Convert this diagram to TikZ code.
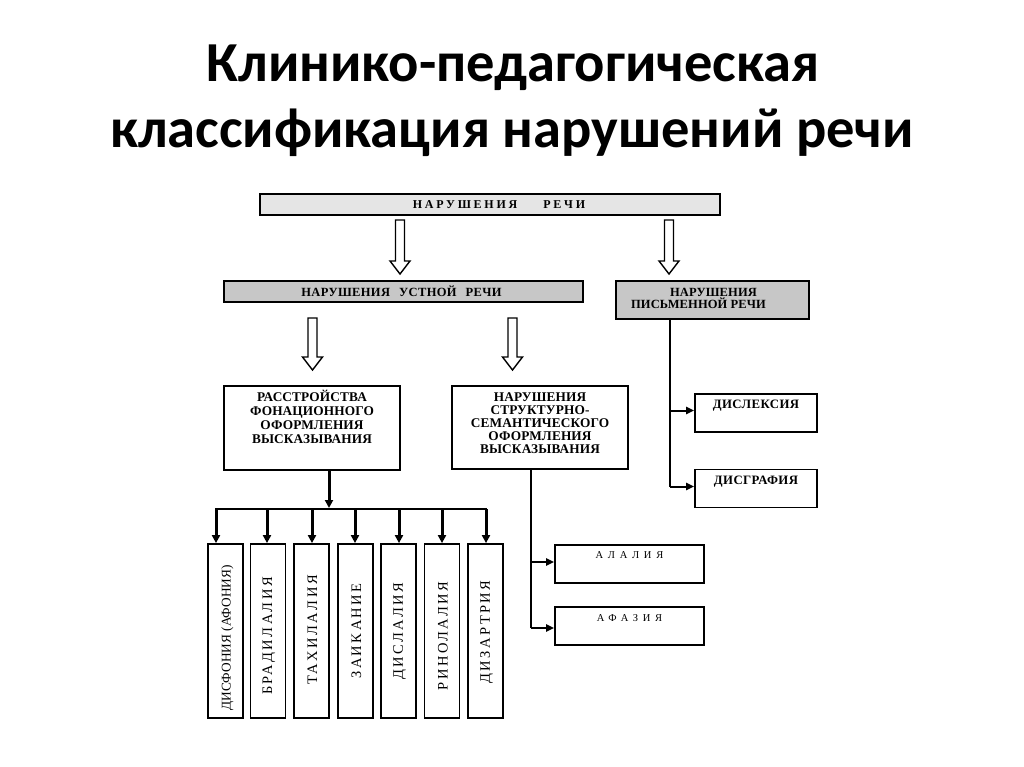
\documentclass[tikz,border=0pt]{standalone}
\usepackage{fontspec}
\setmainfont{Liberation Serif}
\newfontfamily\titlefont{Carlito}
\newfontfamily\lsTop[LetterSpace=23]{Liberation Serif}
\newfontfamily\lsWide[LetterSpace=45]{Liberation Serif}
\newfontfamily\lsOral[LetterSpace=3]{Liberation Serif}
\newfontfamily\lsBox[LetterSpace=1]{Liberation Serif}
\newfontfamily\lsLex[LetterSpace=3]{Liberation Serif}
\newfontfamily\lsVert[LetterSpace=17]{Liberation Serif}
\usetikzlibrary{arrows.meta,calc}
\newcommand\hollowarrow[2]{%
  \draw[hollow] let \p1=(#1), \p2=(#2) in
    (\x1-4.5pt,\y1) -- (\x1+4.5pt,\y1) -- (\x1+4.5pt,\y2+13pt) -- (\x1+10pt,\y2+13pt)
    -- (\x1,\y2) -- (\x1-10pt,\y2+13pt) -- (\x1-4.5pt,\y2+13pt) -- cycle;}
\begin{document}
\begin{tikzpicture}[x=1pt,y=-1pt,
  box/.style={draw, line width=1.8pt, inner sep=0pt},
  hollow/.style={draw, line width=1.4pt, fill=white, line join=miter},
  conn/.style={line width=2pt},
  arr/.style={line width=2pt, -{Triangle[length=8pt,width=7pt]}},
  busarr/.style={line width=3pt, -{Triangle[length=8pt,width=8pt]}},
  ttl/.style={font=\titlefont\bfseries\fontsize{56.5}{60}\selectfont, anchor=base, inner sep=0pt},
  btxt/.style={inner sep=0pt, align=center},
  vtxt/.style={inner sep=0pt, rotate=90, font=\lsVert\fontsize{14.5}{16}\selectfont}]
\useasboundingbox (0,0) rectangle (1024,767);
\fill[white] (0,0) rectangle (1024,767);

% title
\node[ttl] (t1) at (513,82) {Клинико-педагогическая};
\node[ttl] (t2) at (512,148) {классификация нарушений речи};

% top boxes
\node[box, fill=black!10, minimum width=460pt, minimum height=21pt] (top) at (490,204.5) {};
\node[btxt, anchor=base, font=\lsTop\bfseries\fontsize{12}{14}\selectfont] (toptx) at ($(top.center)+(9,4.5)$) {НАРУШЕНИЯ\hspace{26pt}РЕЧИ};

\node[box, fill=black!22, minimum width=359pt, minimum height=21pt] (oral) at (403.5,291.5) {};
\node[btxt, anchor=base, font=\lsOral\bfseries\fontsize{12.5}{13}\selectfont] (oraltx) at ($(oral.center)+(-2,4.5)$) {НАРУШЕНИЯ\hspace{9pt}УСТНОЙ\hspace{9pt}РЕЧИ};

\node[box, fill=black!22, minimum width=193pt, minimum height=38pt] (writ) at (712.5,300) {};
\node[btxt, font=\lsBox\bfseries\fontsize{12.5}{12}\selectfont, anchor=north] (writtx) at (698.5,288) {\hspace{30pt}НАРУШЕНИЯ\\ПИСЬМЕННОЙ РЕЧИ};

% second level
\node[box, minimum width=176pt, minimum height=84pt] (phon) at (312,428) {};
\node[btxt, font=\lsBox\bfseries\fontsize{13.3}{14}\selectfont, anchor=north] (phontx) at ($(phon.north)+(0,5)$) {РАССТРОЙСТВА\\ФОНАЦИОННОГО\\ОФОРМЛЕНИЯ\\ВЫСКАЗЫВАНИЯ};

\node[box, minimum width=176pt, minimum height=83pt] (sem) at (540,427.5) {};
\node[btxt, font=\lsBox\bfseries\fontsize{13.3}{13}\selectfont, anchor=north] (semtx) at ($(sem.north)+(0,7)$) {НАРУШЕНИЯ\\СТРУКТУРНО-\\СЕМАНТИЧЕСКОГО\\ОФОРМЛЕНИЯ\\ВЫСКАЗЫВАНИЯ};

% hollow arrows
\coordinate (h1s) at (400,220); \coordinate (h1e) at (400,274);
\coordinate (h2s) at (669,220); \coordinate (h2e) at (669,274);
\coordinate (h3s) at (312.5,318); \coordinate (h3e) at (312.5,370);
\coordinate (h4s) at (512.5,318); \coordinate (h4e) at (512.5,370);
\hollowarrow{h1s}{h1e}
\hollowarrow{h2s}{h2e}
\hollowarrow{h3s}{h3e}
\hollowarrow{h4s}{h4e}

% written speech branch
\node[box, minimum width=122pt, minimum height=38pt] (dlex) at (756,413) {};
\node[btxt, anchor=base, font=\lsLex\bfseries\fontsize{12.8}{12}\selectfont] (dlextx) at ($(dlex.center)+(0,-5)$) {ДИСЛЕКСИЯ};
\node[box, minimum width=122pt, minimum height=38pt] (dgra) at (756,488.5) {};
\node[btxt, anchor=base, font=\lsLex\bfseries\fontsize{12.8}{12}\selectfont] (dgratx) at ($(dgra.center)+(0,-4.5)$) {ДИСГРАФИЯ};
\coordinate (wx) at (670,0);
\draw[conn] (writ.south -| wx) -- ($(dgra.west -| wx)+(0,-2)$);
\draw[arr] ($(dlex.west -| wx)+(0,-2.5)$) -- ($(dlex.west)+(0,-2.5)$);
\draw[arr] ($(dgra.west -| wx)+(0,-2)$) -- ($(dgra.west)+(0,-2)$);

% structural-semantic branch
\node[box, minimum width=149pt, minimum height=38pt] (alal) at (629.5,564) {};
\node[btxt, anchor=base, font=\lsWide\fontsize{10.5}{11}\selectfont] (alaltx) at ($(alal.center)+(0,-6)$) {АЛАЛИЯ};
\node[box, minimum width=149pt, minimum height=38pt] (afaz) at (629.5,626) {};
\node[btxt, anchor=base, font=\lsWide\fontsize{10.5}{11}\selectfont] (afaztx) at ($(afaz.center)+(0,-5)$) {АФАЗИЯ};
\coordinate (sx) at (531,0);
\coordinate (s1) at (531,562);
\coordinate (s2) at (531,628);
\draw[conn] (sem.south -| sx) -- (s2);
\draw[arr] (s1) -- (s1 -| alal.west);
\draw[arr] (s2) -- (s2 -| afaz.west);

% vertical boxes
\node[box, minimum width=35pt, minimum height=174pt] (v1) at (225.5,631) {};
\node[vtxt, font=\rmfamily\fontsize{13.3}{15}\selectfont] (v1t) at ($(v1.center)+(2,7)$) {ДИСФОНИЯ (АФОНИЯ)};
\foreach \n/\cx/\t/\dy in {v2/268/{БРАДИЛАЛИЯ}/5, v3/311.5/{ТАХИЛАЛИЯ}/-1,
  v4/355.5/{ЗАИКАНИЕ}/0, v5/398.5/{ДИСЛАЛИЯ}/0, v6/442/{РИНОЛАЛИЯ}/5, v7/485.5/{ДИЗАРТРИЯ}/1}{
  \node[box, minimum width=35pt, minimum height=174pt] (\n) at (\cx,631) {};
  \node[vtxt] (\n t) at ($(\n.center)+(1,\dy)$) {\t};
}

% bus
\coordinate (px) at (329,0);
\coordinate (bm) at (329,508);
\draw[busarr] (phon.south -| px) -- (bm);
\coordinate (bl) at (216,509);
\coordinate (br) at (486,509);
\draw[conn] ($(bl)+(-1,0)$) -- ($(br)+(1,0)$);
\foreach \n/\bx in {v1/216, v2/267, v3/312, v4/355, v5/399, v6/442, v7/486}{
  \coordinate (b\n) at (\bx,509);
  \draw[busarr] (b\n) -- (b\n |- \n.north);
}
\end{tikzpicture}
\end{document}
